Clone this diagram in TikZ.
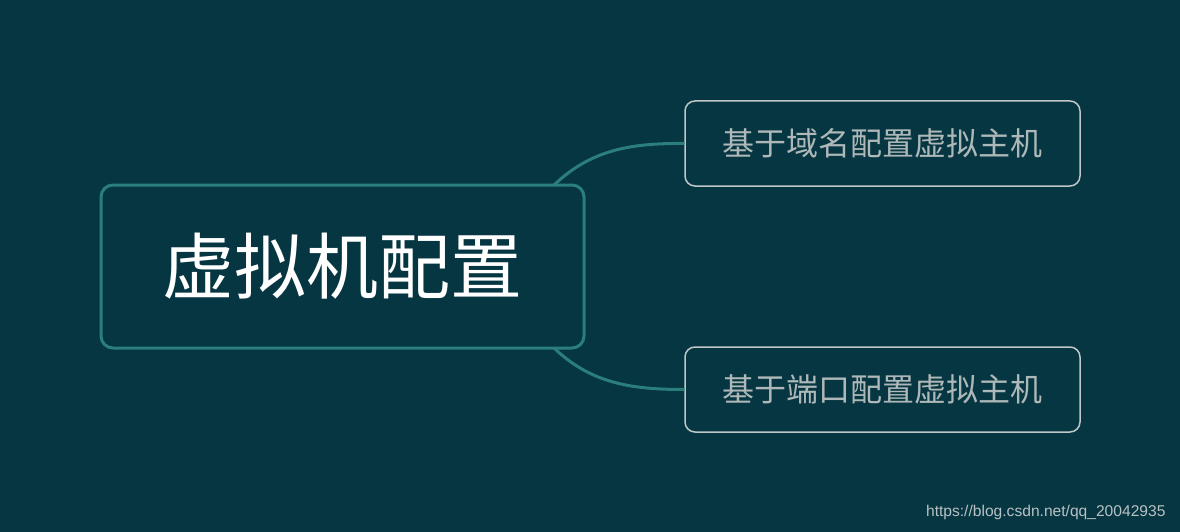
\documentclass[tikz,border=0pt]{standalone}
\usepackage{fontspec}
\newfontfamily\cjk{Noto Sans CJK SC}
\newfontfamily\wm{Liberation Sans}
\definecolor{bg}{HTML}{063642}
\definecolor{mainborder}{HTML}{2A7E7C}
\definecolor{childborder}{HTML}{BFC7C7}
\definecolor{childtext}{HTML}{AEB8B8}
\definecolor{wmtext}{HTML}{B8C2C4}
\tikzset{
  mainbox/.style={draw=mainborder, line width=3pt, rounded corners=12pt, fill=bg,
    minimum width=483pt, minimum height=163pt, inner sep=0pt, text=white,
    font=\cjk\fontsize{72}{72}\selectfont},
  childbox/.style={draw=childborder, line width=1.5pt, rounded corners=10pt, fill=bg,
    minimum width=395pt, minimum height=85pt, inner sep=0pt, text=childtext,
    font=\cjk\fontsize{32}{32}\selectfont},
  link/.style={draw=mainborder, line width=3pt}
}
\begin{document}
\begin{tikzpicture}[x=1pt,y=-1pt]
\fill[bg] (0,0) rectangle (1180,532);
\useasboundingbox (0,0) rectangle (1180,532);
\coordinate (s1) at (553,186);
\coordinate (s2) at (553,347);
\node[childbox] (c1) at (882.5,143.5) {基于域名配置虚拟主机};
\node[childbox] (c2) at (882.5,389.5) {基于端口配置虚拟主机};
\draw[link] (s1) .. controls (590,150) and (630,143) .. (c1.west);
\draw[link] (s2) .. controls (590,383) and (630,389.5) .. (c2.west);
\node[mainbox] (m) at (342.5,266.5) {虚拟机配置};
\node[text=wmtext, font=\wm\fontsize{15.6}{15.6}\selectfont, anchor=east] (w) at (1169,512) {https://blog.csdn.net/qq\_20042935};
\end{tikzpicture}
\end{document}
